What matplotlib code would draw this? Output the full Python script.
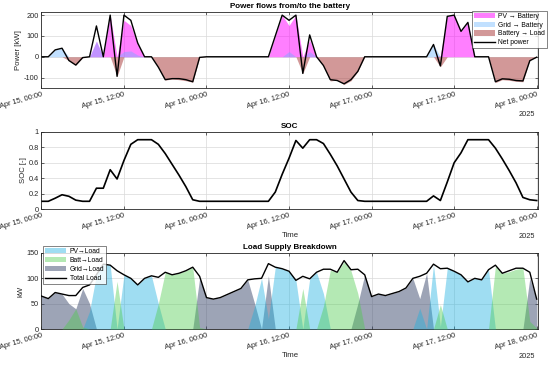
import matplotlib
matplotlib.use('Agg')
import matplotlib.pyplot as plt
import matplotlib.dates as mdates
import matplotlib.ticker as mticker
import pandas as pd
import numpy as np

plt.rcParams['font.family'] = ['Liberation Sans', 'DejaVu Sans']
plt.rcParams['axes.unicode_minus'] = False

# ---------------- data (hourly, 2025-04-15 00:00 .. 2025-04-18 00:00) ----------------
start_time = '2025-04-15 00:00'
n_hours = 73

total_load = [65, 60, 72, 69, 66, 66, 82, 87, 107, 128,
              126, 115, 107, 100, 87, 100, 105, 102, 112, 107,
              110, 115, 122, 104, 62, 59, 62, 68, 74, 80,
              97, 99, 100, 129, 122, 119, 114, 96, 104, 99,
              112, 118, 118, 112, 135, 117, 118, 107, 64, 69,
              66, 70, 74, 81, 100, 104, 110, 128, 119, 120,
              114, 107, 93, 100, 97, 117, 126, 110, 115, 120,
              120, 112, 59]

pv_load = [0, 0, 0, 0, 0, 0, 0, 35, 107, 128,
           126, 0, 107, 100, 87, 100, 105, 50, 0, 0,
           0, 0, 0, 0, 0, 0, 0, 0, 0, 0,
           0, 45, 100, 20, 122, 119, 114, 96, 0, 99,
           112, 70, 0, 0, 0, 0, 0, 0, 0, 0,
           0, 0, 0, 0, 0, 41, 0, 127, 5, 120,
           114, 107, 93, 100, 97, 117, 0, 0, 0, 0,
           0, 0, 0]

grid_load = [65, 60, 72, 69, 50, 40, 80, 50, 0, 0,
             0, 0, 0, 0, 0, 0, 0, 0, 0, 0,
             0, 0, 0, 100, 62, 59, 62, 68, 74, 80,
             97, 50, 0, 105, 0, 0, 0, 0, 0, 0,
             0, 0, 0, 0, 0, 0, 50, 107, 64, 69,
             66, 70, 74, 81, 100, 60, 110, 0, 0, 0,
             0, 0, 0, 0, 0, 0, 0, 0, 0, 0,
             0, 100, 59]

batt_load = [0, 0, 0, 0, 18, 40, 4, 0, 0, 0,
             0, 94, 0, 0, 0, 0, 0, 50, 112, 107,
             110, 115, 122, 3, 0, 0, 0, 0, 0, 0,
             0, 0, 0, 0, 0, 0, 0, 0, 80, 0,
             0, 45, 116, 112, 133, 115, 70, 0, 0, 0,
             0, 0, 0, 0, 0, 0, 0, 0, 48, 0,
             0, 0, 0, 0, 0, 0, 124, 110, 113, 118,
             120, 15, 2]

pv_batt = [0, 0, 0, 0, 0, 0, 0, 0, 75, 0,
           200, 0, 175, 150, 60, 0, 0, 0, 0, 0,
           0, 0, 0, 0, 0, 0, 0, 0, 0, 0,
           0, 0, 0, 0, 100, 200, 150, 200, 0, 80,
           0, 0, 0, 0, 0, 0, 0, 0, 0, 0,
           0, 0, 0, 0, 0, 0, 0, 0, 5, 194,
           200, 122, 165, 0, 0, 0, 0, 0, 0, 0,
           0, 0, 0]

grid_batt = [0, 0, 33, 41, 0, 0, 0, 0, 75, 0,
             0, 0, 25, 28, 8, 0, 0, 0, 0, 0,
             0, 0, 0, 0, 0, 0, 0, 0, 0, 0,
             0, 0, 0, 0, 0, 0, 25, 0, 0, 25,
             0, 0, 0, 0, 0, 0, 0, 0, 0, 0,
             0, 0, 0, 0, 0, 0, 0, 59, 0, 0,
             0, 0, 0, 0, 0, 0, 0, 0, 0, 0,
             0, 0, 0]

net_power = [0, 0, 33, 41, -18, -40, -4, 0, 148, 0,
             200, -94, 200, 175, 66, 0, 0, -50, -110, -105,
             -105, -110, -120, -3, 0, 0, 0, 0, 0, 0,
             0, 0, 0, 0, 100, 200, 175, 200, -80, 105,
             0, -42, -110, -114, -130, -110, -70, 0, 0, 0,
             0, 0, 0, 0, 0, 0, 0, 59, -44, 194,
             200, 122, 165, 0, 0, 0, -120, -106, -108, -114,
             -116, -19, -2]

soc = [0.10, 0.10, 0.14, 0.185, 0.165, 0.115, 0.10, 0.10, 0.27, 0.27,
       0.51, 0.39, 0.63, 0.84, 0.90, 0.90, 0.90, 0.84, 0.72, 0.58,
       0.44, 0.29, 0.12, 0.10, 0.10, 0.10, 0.10, 0.10, 0.10, 0.10,
       0.10, 0.10, 0.10, 0.10, 0.22, 0.45, 0.66, 0.89, 0.79, 0.90,
       0.90, 0.85, 0.71, 0.56, 0.39, 0.22, 0.11, 0.10, 0.10, 0.10,
       0.10, 0.10, 0.10, 0.10, 0.10, 0.10, 0.10, 0.17, 0.11, 0.35,
       0.60, 0.73, 0.90, 0.90, 0.90, 0.90, 0.79, 0.65, 0.50, 0.34,
       0.15, 0.12, 0.11]

t = pd.date_range(start_time, periods=n_hours, freq='h')

# ---------------- style ----------------
TXT = '#262626'
TICK_FS = 5.3
fig = plt.figure(figsize=(5.5, 3.65), dpi=100)
L = 41.4 / 550
W = 497.0 / 550
ax1 = fig.add_axes([L, 1 - 88 / 365, W, 76 / 365])
ax2 = fig.add_axes([L, 1 - 209 / 365, W, 77 / 365])
ax3 = fig.add_axes([L, 1 - 329 / 365, W, 76 / 365])

xmin = t[0]
xmax = t[-1] + pd.Timedelta(minutes=15)


def style(ax):
    ax.set_xlim(xmin, xmax)
    ax.xaxis.set_major_locator(mdates.HourLocator(byhour=[0, 12]))
    ax.xaxis.set_major_formatter(mdates.DateFormatter('%b %d, %H:%M'))
    ax.grid(True, color='#d9d9d9', lw=0.5)
    ax.set_axisbelow(True)
    for s in ax.spines.values():
        s.set_color(TXT)
        s.set_linewidth(0.6)
    ax.tick_params(direction='in', length=2.5, width=0.5, colors=TXT,
                   labelsize=TICK_FS, top=True, right=True, pad=2)
    for lab in ax.get_xticklabels():
        lab.set_rotation(16)
        lab.set_ha('right')
        lab.set_va('top')
        lab.set_rotation_mode('anchor')


# ---- top: power flows ----
ax1.fill_between(t, 0, pv_batt, color='#ff00ff', alpha=0.5, lw=0, label='PV → Battery')
ax1.fill_between(t, 0, grid_batt, color='#66b3ff', alpha=0.4, lw=0, label='Grid → Battery')
ax1.fill_between(t, 0, -np.array(batt_load), color='#a63333', alpha=0.5, lw=0, label='Battery → Load')
ax1.plot(t, net_power, color='k', lw=1.0, label='Net power')
ax1.set_ylim(-150, 215)
ax1.set_yticks([-100, 0, 100, 200])
ax1.set_ylabel('Power [kW]', fontsize=5.6, color=TXT, labelpad=1)
ax1.set_title('Power flows from/to the battery', fontsize=5.8, fontweight='bold', pad=3)
style(ax1)
leg1 = ax1.legend(loc='upper right', bbox_to_anchor=(547 / 550, 1 - 11 / 365),
                  bbox_transform=fig.transFigure, fontsize=4.9, frameon=True,
                  fancybox=False, edgecolor=TXT, handlelength=3.0, handleheight=0.8,
                  labelspacing=0.25, borderpad=0.3, handletextpad=0.5, borderaxespad=0)
leg1.get_frame().set_linewidth(0.5)

# ---- middle: SOC ----
ax2.plot(t, soc, color='k', lw=1.2)
ax2.set_ylim(0, 1)
ax2.set_yticks([0, 0.2, 0.4, 0.6, 0.8, 1])
ax2.yaxis.set_major_formatter(mticker.FuncFormatter(lambda v, p: ('%g' % v)))
ax2.set_ylabel('SOC [-]', fontsize=5.6, color=TXT, labelpad=1)
ax2.set_title('SOC', fontsize=5.8, fontweight='bold', pad=3)
ax2.set_xlabel('Time', fontsize=5.6, color=TXT, labelpad=1)
style(ax2)

# ---- bottom: load supply ----
ax3.fill_between(t, 0, grid_load, color='#3c4a6e', alpha=0.5, lw=0, label='Grid→Load', zorder=2)
ax3.fill_between(t, 0, pv_load, color='#1ab0e0', alpha=0.42, lw=0, label='PV→Load', zorder=3)
ax3.fill_between(t, 0, batt_load, color='#4ccc4c', alpha=0.42, lw=0, label='Batt→Load', zorder=3)
ax3.plot(t, total_load, color='k', lw=1.0, label='Total Load', zorder=4)
ax3.set_ylim(0, 150)
ax3.set_yticks([0, 50, 100, 150])
ax3.set_ylabel('kW', fontsize=5.6, color=TXT, labelpad=1)
ax3.set_title('Load Supply Breakdown', fontsize=5.8, fontweight='bold', pad=3)
ax3.set_xlabel('Time', fontsize=5.6, color=TXT, labelpad=1)
style(ax3)
h, lab = ax3.get_legend_handles_labels()
order = [lab.index('PV→Load'), lab.index('Batt→Load'), lab.index('Grid→Load'), lab.index('Total Load')]
leg3 = ax3.legend([h[i] for i in order], [lab[i] for i in order], loc='upper left',
                  bbox_to_anchor=(42.5 / 550, 1 - 246 / 365), bbox_transform=fig.transFigure,
                  fontsize=4.9, frameon=True, fancybox=False, edgecolor=TXT,
                  handlelength=3.2, handleheight=0.8, labelspacing=0.3, borderpad=0.3,
                  handletextpad=0.5, borderaxespad=0)
leg3.get_frame().set_linewidth(0.5)

# year labels
for yy in (115, 236, 357):
    fig.text(527 / 550, 1 - yy / 365, '2025', fontsize=5.3, color=TXT, ha='center', va='center')

fig.savefig('out.png', dpi=100)
